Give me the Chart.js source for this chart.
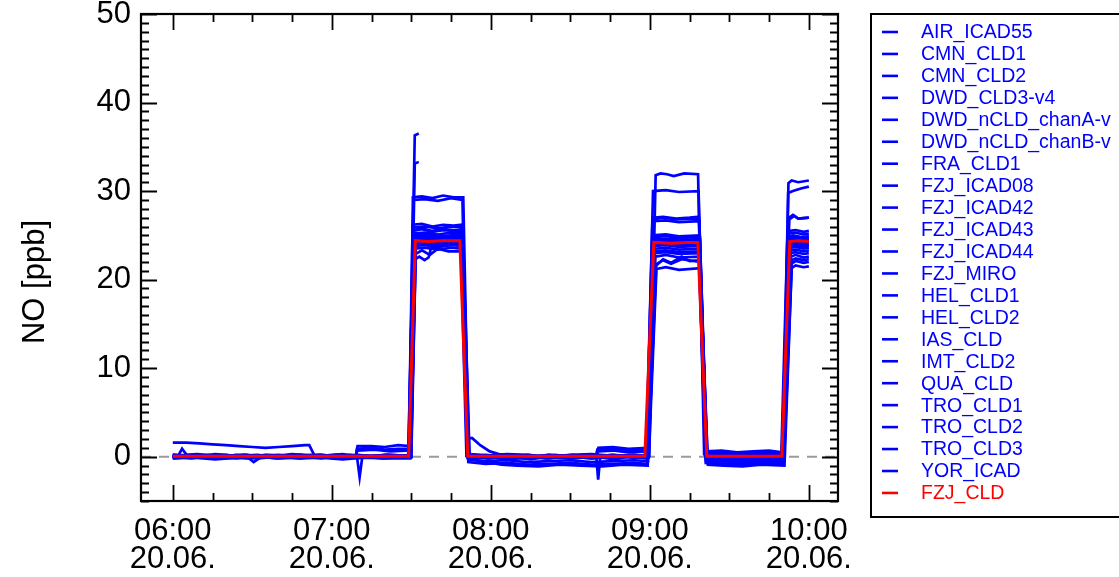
<!DOCTYPE html>
<html>
<head>
<meta charset="utf-8">
<script src="https://cdn.jsdelivr.net/npm/chart.js@4/dist/chart.umd.min.js"></script>
<style>
  html, body { margin: 0; padding: 0; background: #ffffff; }
  canvas { display: block; }
</style>
</head>
<body>
<canvas id="c" width="1119" height="577"></canvas>
<script>
// ---------- DATA (minutes after 06:00 on 20.06., NO in ppb) ----------
const yTitle = 'NO [ppb]';
const xTickMinutes = [0, 60, 120, 180, 240];
const xTickLabels = [['06:00', '20.06.'], ['07:00', '20.06.'], ['08:00', '20.06.'], ['09:00', '20.06.'], ['10:00', '20.06.']];
const yTicks = [0, 10, 20, 30, 40, 50];

const seriesNames = [
  'AIR_ICAD55', 'CMN_CLD1', 'CMN_CLD2', 'DWD_CLD3-v4', 'DWD_nCLD_chanA-v', 'DWD_nCLD_chanB-v',
  'FRA_CLD1', 'FZJ_ICAD08', 'FZJ_ICAD42', 'FZJ_ICAD43', 'FZJ_ICAD44', 'FZJ_MIRO',
  'HEL_CLD1', 'HEL_CLD2', 'IAS_CLD', 'IMT_CLD2', 'QUA_CLD', 'TRO_CLD1', 'TRO_CLD2', 'TRO_CLD3', 'YOR_ICAD'
];

const seriesValues = [
  [[0,0.2],[8,0.0],[16,0.3],[24,0.1],[32,0.2],[40,-0.1],[48,0.2],[56,0.1],[64,0.3],[72,0.0],[80,0.2],[89.0,0.1],[91.3,36.3],[92.8,36.5],[93,null],[112,0.3],[120,0.1],[128,0.2],[136,-0.1],[144,0.2],[152,0.0],[160,0.2],[160.6,1.0],[166,1.1],[172,0.9],[179.4,1.0],[181.8,24.6],[186,24.4],[190,24.7],[194,24.5],[198.3,24.6],[200.9,0.4],[208,0.2],[216,0.0],[224,0.3],[229.6,0.1],[231.9,24.8],[234,25.0],[237,24.8],[240,24.9]],
  [[0,-0.1],[7,0.1],[15,-0.2],[23,0.0],[31,0.1],[39,-0.2],[47,0.0],[55,0.2],[63,-0.1],[71,0.1],[79,-0.2],[89.2,0.0],[91.3,33.1],[92.8,33.3],[93,null],[112.2,0.2],[119,-0.2],[127,0.0],[135,-0.3],[143,0.1],[151,-0.2],[159,0.0],[167,-0.3],[173,0.1],[178.6,-0.1],[181.1,26.8],[185,27.0],[190,26.8],[195,26.9],[198.6,26.8],[201.2,0.6],[207,0.7],[213,0.5],[219,0.6],[225,0.7],[229.9,0.5],[232.5,27.0],[234,27.3],[236,26.9],[240,27.0]],
  [[0,0.0],[9,0.2],[18,-0.1],[27,0.1],[36,0.0],[45,0.2],[54,-0.1],[63,0.1],[69.2,0.1],[69.7,1.2],[75,1.2],[80,1.1],[85,1.3],[89.4,1.2],[90.6,29.3],[94,29.4],[98,29.2],[102,29.5],[106,29.3],[109.6,29.3],[111.6,0.1],[118,0.0],[126,0.2],[134,-0.1],[142,0.1],[150,0.0],[158,0.2],[166,-0.1],[174,0.1],[179.8,0.1],[182.2,31.8],[184,32.0],[186.5,31.9],[189,31.7],[193,32.0],[198.2,31.9],[200.5,0.3],[207,0.1],[214,0.3],[221,0.0],[230.4,0.1],[232.3,30.9],[233.5,31.2],[236,31.0],[240,31.2]],
  [[0,1.6],[5,1.6],[10,1.5],[15,1.4],[20,1.3],[25,1.2],[30,1.1],[35,1.0],[40,1.1],[45,1.2],[50,1.3],[51.5,1.3],[53.5,0.1],[60,0.0],[67,0.2],[74,0.1],[81,-0.1],[89.3,0.0],[90.8,29.0],[95,29.1],[100,28.9],[105,29.2],[109.3,29.0],[111.3,0.0],[119,-0.2],[127,0.1],[135,-0.1],[143,0.0],[151,0.2],[159,-0.1],[167,0.0],[174,0.1],[178.8,0.0],[181.2,30.0],[186,30.1],[191,29.9],[198.4,30.0],[200.8,0.2],[207,0.0],[214,0.2],[221,-0.1],[230.1,0.0],[232.2,29.8],[234,30.0],[237,30.3],[240,30.5]],
  [[0,0.1],[8,-0.1],[16,0.2],[24,0.0],[32,-0.1],[40,0.1],[48,0.2],[56,-0.1],[64,0.0],[69.0,0.0],[69.5,0.9],[75,1.0],[80,0.8],[85,0.9],[89.0,0.9],[90.5,26.2],[94,26.3],[98,26.0],[102,26.2],[106,26.1],[108.8,26.2],[111.0,0.2],[118,0.0],[126,-0.2],[134,0.1],[142,-0.1],[150,0.1],[158,-0.2],[166,0.0],[174,0.2],[178.6,0.0],[181.0,27.0],[185,27.1],[190,26.9],[195,27.0],[198.5,27.1],[201.0,0.0],[208,-0.2],[215,0.1],[222,-0.1],[230.2,0.1],[232.6,26.8],[234.5,27.2],[236,26.9],[240,27.0]],
  [[0,0.0],[2,0.1],[3.5,0.9],[5.5,0.1],[12,0.0],[20,0.2],[28,-0.1],[36,0.1],[44,0.0],[52,0.2],[60,-0.1],[68,0.0],[76,0.1],[83,0.0],[88.8,0.0],[90.9,25.9],[95,26.0],[100,25.8],[105,26.0],[108.5,25.9],[110.8,0.1],[117,-0.1],[125,0.1],[133,0.0],[141,-0.2],[149,0.1],[157,0.0],[165,-0.1],[173,0.1],[178.9,0.0],[181.3,26.6],[186,26.7],[191,26.5],[198.7,26.6],[201.3,0.1],[208,-0.1],[215,0.2],[222,0.0],[229.8,-0.1],[232.4,25.5],[235,25.6],[238,25.4],[240,25.5]],
  [[0,0.1],[9,0.0],[18,0.2],[27,-0.1],[36,0.1],[45,0.0],[54,0.2],[63,0.0],[69.1,0.1],[69.6,0.7],[76,0.8],[82,0.6],[89.1,0.7],[90.7,25.5],[94,25.7],[98,25.4],[102,25.6],[106,25.5],[109.0,25.5],[111.2,-0.1],[118,0.1],[126,-0.1],[134,0.0],[142,0.2],[150,-0.1],[158,0.0],[166,0.2],[174,0.0],[178.7,0.1],[181.4,25.0],[186,25.1],[191,24.9],[198.8,25.0],[201.4,0.2],[208,0.0],[215,-0.2],[222,0.1],[230.0,0.0],[232.1,25.2],[235,25.3],[238,25.1],[240,25.2]],
  [[0,-0.2],[8,0.0],[16,-0.1],[24,0.1],[28,0.0],[30.5,-0.6],[33,-0.1],[40,0.0],[48,-0.2],[56,0.1],[64,-0.1],[72,0.0],[80,0.1],[89.4,-0.1],[91.0,25.2],[95,25.3],[100,25.1],[105,25.3],[109.1,25.2],[111.4,-0.2],[118,0.0],[126,-0.3],[134,-0.1],[142,0.0],[150,-0.2],[158,0.1],[166,-0.1],[174,0.0],[178.9,-0.2],[181.5,24.8],[186,24.9],[191,24.7],[198.9,24.8],[201.5,-0.3],[208,-0.1],[215,-0.3],[222,0.0],[230.3,-0.2],[232.7,24.8],[235,24.9],[238,24.7],[240,24.8]],
  [[0,0.0],[7,-0.2],[14,0.1],[21,-0.1],[28,0.0],[35,0.2],[42,-0.1],[49,0.0],[56,-0.2],[63,0.1],[70,0.0],[77,-0.1],[84,0.1],[89.6,0.0],[91.2,25.0],[95,25.1],[100,24.9],[105,25.0],[109.2,25.0],[111.5,0.0],[118,-0.1],[126,0.1],[134,-0.2],[142,0.0],[150,0.1],[159.5,-0.1],[160.2,0.8],[166,0.9],[172,0.7],[179.2,0.8],[181.6,24.5],[186,24.6],[191,24.4],[198.9,24.5],[201.6,0.1],[208,-0.1],[215,0.1],[222,-0.2],[230.4,0.0],[232.8,24.5],[235,24.6],[238,24.4],[240,24.5]],
  [[0,0.1],[8,0.2],[16,0.0],[24,-0.1],[32,0.1],[40,0.2],[48,0.0],[56,0.1],[64,-0.1],[72,0.1],[80,0.0],[89.5,0.1],[91.1,24.8],[95,24.9],[100,24.7],[105,24.9],[109.0,24.8],[111.2,0.1],[118,0.2],[126,0.0],[134,0.1],[142,-0.1],[150,0.1],[159.8,0.0],[160.4,0.6],[166,0.7],[172,0.5],[179.0,0.6],[181.7,24.3],[186,24.4],[191,24.2],[198.6,24.3],[201.2,-0.2],[208,0.0],[215,-0.1],[222,0.1],[230.1,-0.1],[232.9,24.3],[235,24.4],[238,24.2],[240,24.3]],
  [[0,-0.1],[9,0.1],[18,-0.2],[27,0.0],[36,0.1],[45,-0.1],[54,0.0],[62,0.2],[69.5,0.0],[70.5,-2.3],[71.5,0.0],[78,0.1],[84,-0.1],[89.7,0.0],[91.3,24.6],[95,24.7],[100,24.5],[105,24.7],[109.3,24.6],[111.6,0.2],[118,0.0],[126,0.1],[134,-0.1],[142,0.2],[150,0.0],[158,-0.1],[166,0.1],[174,-0.1],[179.1,0.0],[181.8,24.0],[186,24.1],[191,23.9],[198.7,24.0],[201.3,0.0],[208,0.2],[215,0.0],[222,-0.1],[230.2,0.1],[233.0,24.1],[235,24.2],[238,24.0],[240,24.1]],
  [[0,0.2],[8,0.1],[16,-0.1],[24,0.2],[32,0.0],[40,0.1],[48,-0.1],[56,0.2],[64,0.0],[72,0.1],[80,-0.1],[89.8,0.1],[91.4,24.3],[95,24.4],[100,24.2],[105,24.4],[109.4,24.3],[111.7,0.0],[118,-0.1],[126,0.1],[134,0.0],[142,-0.2],[150,0.1],[158,0.0],[166,-0.1],[174,0.1],[179.3,0.0],[181.9,23.8],[186,23.9],[191,23.7],[198.8,23.8],[201.4,0.4],[208,0.5],[215,0.3],[222,0.4],[230.3,0.4],[233.1,23.9],[235,24.0],[238,23.8],[240,23.9]],
  [[0,0.0],[7,0.1],[14,-0.1],[21,0.1],[28,0.2],[35,-0.1],[42,0.0],[49,0.1],[56,-0.1],[63,0.0],[70,0.2],[77,0.0],[84,-0.1],[89.9,0.0],[91.5,24.0],[95,24.1],[100,23.9],[105,24.0],[109.5,24.0],[111.5,2.1],[113,2.1],[116,1.3],[119.6,0.6],[123,0.3],[130,0.1],[138,-0.1],[146,0.1],[154,0.0],[162,-0.1],[170,0.1],[179.4,0.0],[182.0,23.5],[186,23.6],[191,23.4],[198.9,23.5],[201.5,0.1],[208,-0.1],[215,0.1],[222,0.0],[230.4,0.0],[233.2,23.6],[235,23.7],[238,23.5],[240,23.6]],
  [[0,-0.2],[8,-0.1],[16,-0.3],[24,-0.1],[32,-0.2],[40,0.0],[48,-0.2],[56,-0.1],[64,-0.3],[72,-0.1],[80,-0.2],[89.6,-0.2],[91.2,23.8],[95,23.9],[100,23.7],[105,23.9],[109.2,23.8],[111.5,-0.6],[118,-0.8],[126,-0.7],[134,-0.9],[142,-0.8],[150,-0.7],[158,-0.9],[166,-0.8],[174,-0.7],[179.0,-0.8],[181.6,23.2],[186,23.3],[191,23.1],[198.5,23.2],[201.1,-0.4],[208,-0.3],[215,-0.5],[222,-0.3],[230.0,-0.4],[232.8,23.3],[235,23.4],[238,23.2],[240,23.3]],
  [[0,0.1],[9,-0.1],[18,0.0],[27,0.2],[36,-0.1],[45,0.1],[54,0.0],[63,-0.2],[72,0.1],[81,0.0],[89.3,0.1],[91.0,23.5],[95,23.6],[100,23.4],[105,23.6],[109.0,23.5],[111.3,0.0],[118,0.1],[126,-0.1],[134,0.0],[142,0.1],[150,-0.1],[159.8,0.0],[160.5,-2.6],[161.3,0.0],[168,0.1],[174,-0.1],[178.8,0.0],[181.5,23.0],[186,23.1],[191,22.9],[198.6,23.0],[201.2,0.2],[208,0.0],[215,0.1],[222,-0.1],[230.1,0.0],[232.9,23.0],[235,23.1],[238,22.9],[240,23.0]],
  [[0,-0.1],[8,0.0],[16,-0.2],[24,-0.1],[32,0.0],[40,-0.2],[48,-0.1],[56,0.0],[64,-0.2],[72,-0.1],[80,0.0],[89.8,-0.1],[91.6,22.9],[94,23.3],[97,22.8],[100,23.5],[104,23.2],[109.3,23.2],[111.8,-0.3],[118,-0.6],[124,-0.9],[130,-1.0],[138,-1.1],[146,-0.9],[154,-1.0],[162,-1.1],[170,-0.9],[179.2,-1.0],[182.1,22.6],[186,22.8],[191,22.5],[198.8,22.6],[201.6,-0.6],[208,-0.5],[215,-0.7],[222,-0.5],[230.5,-0.6],[233.3,22.6],[235,22.8],[238,22.5],[240,22.6]],
  [[0,0.0],[8,0.2],[16,0.0],[24,0.1],[32,-0.1],[40,0.1],[48,0.0],[56,0.2],[64,0.0],[72,-0.1],[80,0.1],[90.0,0.0],[91.6,22.3],[93,22.6],[95,22.2],[96.5,22.5],[97.5,23.6],[100,23.7],[104,23.9],[109.5,24.0],[111.9,0.1],[118,0.0],[126,0.2],[134,0.0],[142,-0.1],[150,0.1],[158,0.0],[166,0.2],[174,0.0],[179.5,0.1],[182.3,21.7],[185,22.2],[188,21.8],[192,22.3],[198.9,22.0],[201.7,-0.6],[208,-0.5],[215,-0.7],[222,-0.6],[230.6,-0.5],[233.4,21.8],[235,22.1],[238,21.9],[240,22.0]],
  [[0,0.2],[9,0.0],[18,0.1],[27,-0.1],[36,0.2],[45,0.0],[54,0.1],[63,-0.1],[72,0.0],[81,0.2],[89.7,0.1],[91.3,24.1],[95,24.2],[100,24.0],[105,24.2],[109.3,24.1],[111.6,-0.3],[118,-0.5],[126,-0.4],[134,-0.6],[142,-0.5],[150,-0.4],[158,-0.6],[166,-0.5],[174,-0.4],[179.3,-0.5],[182.4,21.6],[185,22.3],[188,21.9],[192,22.6],[195,22.1],[198.9,22.2],[201.8,0.0],[208,0.1],[215,-0.1],[222,0.0],[230.7,0.1],[233.5,21.3],[235,21.6],[238,21.4],[240,21.5]],
  [[0,0.0],[7,-0.1],[14,0.1],[21,0.0],[28,-0.2],[35,0.1],[42,0.0],[49,-0.1],[56,0.1],[63,0.0],[70,-0.1],[77,0.1],[84,0.0],[89.9,-0.1],[91.7,23.9],[95,24.0],[100,23.8],[105,24.0],[109.6,23.9],[112.0,-0.2],[118,0.0],[126,-0.2],[134,0.1],[142,-0.1],[150,0.0],[158,-0.2],[166,0.1],[174,0.0],[179.6,-0.1],[182.5,21.2],[186,21.4],[191,21.1],[198.9,21.3],[201.9,-0.9],[208,-1.0],[215,-1.1],[222,-0.9],[230.8,-1.0],[233.6,22.2],[235,22.4],[238,22.2],[240,22.3]],
  [[0,-0.1],[8,0.1],[16,0.0],[24,-0.2],[32,0.1],[40,0.0],[48,-0.1],[56,0.1],[64,-0.2],[72,0.0],[80,0.1],[89.4,0.0],[91.1,24.4],[95,24.5],[100,24.3],[105,24.5],[109.1,24.4],[111.4,0.1],[118,-0.1],[126,0.0],[134,0.2],[142,-0.1],[150,0.0],[158,0.1],[166,-0.1],[174,0.1],[178.9,0.0],[181.6,24.2],[186,24.3],[191,24.1],[198.5,24.2],[201.1,-0.7],[208,-0.8],[215,-0.9],[222,-0.7],[230.2,-0.8],[232.7,24.6],[235,24.7],[238,24.5],[240,24.6]],
  [[0,0.1],[9,0.3],[18,0.1],[27,0.2],[36,0.0],[45,0.3],[54,0.1],[63,0.2],[72,0.0],[81,0.2],[89.1,0.1],[90.7,25.6],[94,25.8],[98,25.5],[102,25.7],[106,25.6],[109.0,25.6],[111.2,0.3],[118,0.1],[126,0.3],[134,0.2],[142,0.0],[150,0.2],[158,0.3],[166,0.1],[174,0.2],[178.7,0.1],[181.5,23.9],[186,24.0],[191,23.8],[198.7,23.9],[201.3,0.3],[208,0.1],[215,0.2],[222,0.0],[230.0,0.2],[232.5,23.8],[235,23.9],[238,23.7],[240,23.8]]
];

const refName = 'FZJ_CLD';
const refValues = [[0,0.05],[89.0,0.05],[91.5,24.4],[96,24.3],[102,24.4],[108.3,24.4],[111.3,0.05],[178.1,0.05],[181.5,24.2],[188,24.1],[194,24.2],[198.1,24.2],[201.5,0.05],[229.8,0.05],[232.8,24.3],[236,24.4],[240,24.3]];

// ---------- STYLE ----------
const BLUE = 'rgb(0,0,255)';
const RED = 'rgb(255,0,0)';
const FONT = '"Liberation Sans", Arial, Helvetica, sans-serif';
const toXY = arr => arr.map(p => ({ x: p[0], y: p[1] }));

const datasets = seriesNames.map((name, i) => ({
  label: name,
  data: toXY(seriesValues[i]),
  borderColor: BLUE,
  backgroundColor: BLUE,
  borderWidth: 2.7,
  pointRadius: 0,
  showLine: true,
  spanGaps: false,
  tension: 0,
  order: 1
}));
datasets.push({
  label: refName,
  data: toXY(refValues),
  borderColor: RED,
  backgroundColor: RED,
  borderWidth: 3,
  pointRadius: 0,
  showLine: true,
  spanGaps: false,
  tension: 0,
  order: 0
});

const framePlugin = {
  id: 'idlFrame',
  beforeDatasetsDraw(chart) {
    const { ctx, chartArea: a, scales: { y } } = chart;
    const y0 = y.getPixelForValue(0);
    ctx.save();
    ctx.strokeStyle = '#9a9a9a';
    ctx.lineWidth = 2;
    ctx.setLineDash([10, 8]);
    ctx.beginPath();
    ctx.moveTo(a.left, y0);
    ctx.lineTo(a.right, y0);
    ctx.stroke();
    ctx.restore();
  },
  afterDraw(chart) {
    const { ctx, chartArea: a, scales: { x, y } } = chart;
    ctx.save();
    ctx.strokeStyle = '#000';
    ctx.lineWidth = 1.8;
    ctx.setLineDash([]);
    ctx.beginPath();
    for (let m = Math.ceil(x.min / 15) * 15; m <= x.max; m += 15) {
      const px = Math.round(x.getPixelForValue(m)) + 0.5;
      const len = (m % 60 === 0) ? 16 : 8;
      ctx.moveTo(px, a.bottom); ctx.lineTo(px, a.bottom - len);
      ctx.moveTo(px, a.top); ctx.lineTo(px, a.top + len);
    }
    for (let v = Math.ceil(y.min); v <= y.max; v += 1) {
      const py = Math.round(y.getPixelForValue(v)) + 0.5;
      const len = (v % 10 === 0) ? 16 : 8;
      ctx.moveTo(a.left, py); ctx.lineTo(a.left + len, py);
      ctx.moveTo(a.right, py); ctx.lineTo(a.right - len, py);
    }
    ctx.stroke();
    ctx.lineWidth = 2.2;
    ctx.strokeRect(a.left, a.top, a.right - a.left, a.bottom - a.top);

    ctx.fillStyle = '#000';
    ctx.font = '31px ' + FONT;
    ctx.textAlign = 'center';
    ctx.textBaseline = 'middle';
    ctx.translate(35, 282);
    ctx.rotate(-Math.PI / 2);
    ctx.fillText(yTitle, 0, 0);
    ctx.restore();

    ctx.save();
    ctx.strokeStyle = '#000';
    ctx.lineWidth = 2;
    ctx.strokeRect(871, 14, 300, 503);
    ctx.font = '19.5px ' + FONT;
    ctx.textAlign = 'left';
    ctx.textBaseline = 'middle';
    chart.data.datasets.forEach((ds, i) => {
      const ly = 32 + i * 21.95;
      ctx.strokeStyle = ds.borderColor;
      ctx.lineWidth = 2.6;
      ctx.beginPath();
      ctx.moveTo(882, ly); ctx.lineTo(898, ly);
      ctx.stroke();
      ctx.fillStyle = ds.borderColor;
      ctx.fillText(ds.label, 921, ly + 1);
    });
    ctx.restore();
  }
};

new Chart(document.getElementById('c'), {
  type: 'scatter',
  data: { datasets },
  options: {
    responsive: false,
    devicePixelRatio: 1,
    animation: false,
    events: [],
    layout: { padding: { top: 14, right: 281, left: 0, bottom: 0 } },
    plugins: { legend: { display: false }, tooltip: { enabled: false }, title: { display: false } },
    scales: {
      x: {
        type: 'linear',
        min: -12,
        max: 251,
        grid: { display: false, drawTicks: false },
        border: { display: false },
        afterBuildTicks: s => { s.ticks = xTickMinutes.map(v => ({ value: v })); },
        afterFit: s => { s.height = 76; s.paddingLeft = 0; s.paddingRight = 0; },
        ticks: {
          autoSkip: false, maxRotation: 0, minRotation: 0, padding: 16,
          color: '#000',
          font: { family: FONT, size: 31, lineHeight: 0.92 },
          callback: v => { const i = xTickMinutes.indexOf(v); return i >= 0 ? xTickLabels[i] : ''; }
        }
      },
      y: {
        type: 'linear',
        min: -5,
        max: 50,
        grid: { display: false, drawTicks: false },
        border: { display: false },
        afterBuildTicks: s => { s.ticks = yTicks.map(v => ({ value: v })); },
        afterFit: s => { s.width = 141; s.paddingTop = 0; s.paddingBottom = 0; },
        ticks: {
          autoSkip: false, padding: 10,
          color: '#000',
          font: { family: FONT, size: 31, lineHeight: 1 },
          callback: v => String(v)
        }
      }
    }
  },
  plugins: [framePlugin]
});
</script>
</body>
</html>
